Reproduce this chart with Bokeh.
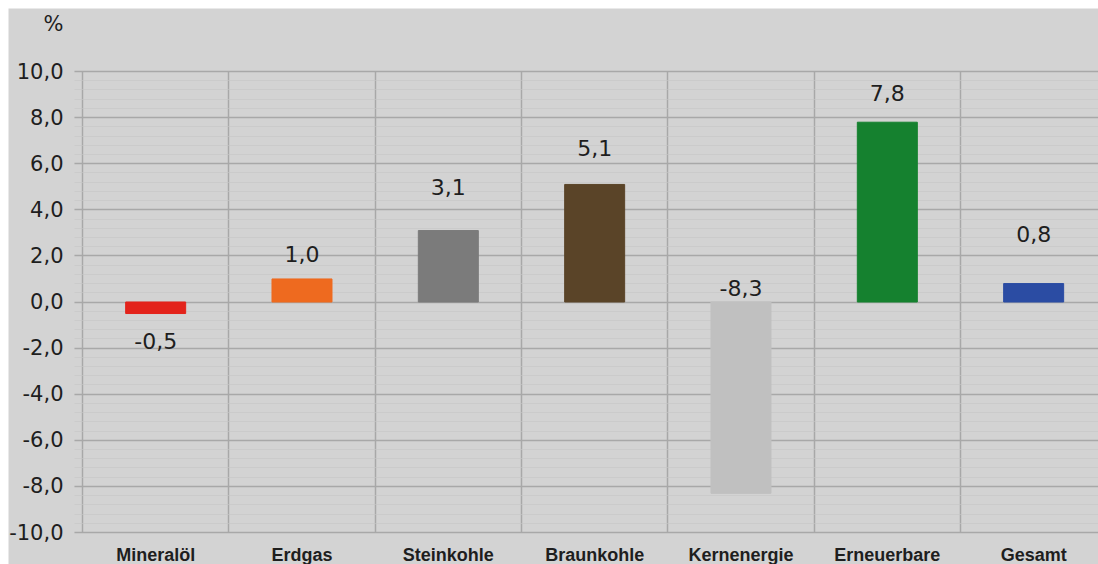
from bokeh.plotting import figure
from bokeh.models import (FixedTicker, CustomJSTickFormatter, Range1d,
                          ColumnDataSource)
from bokeh.core.properties import value
from bokeh.embed import file_html
from bokeh.resources import INLINE

# ---- data ----
categories = ["Mineralöl", "Erdgas", "Steinkohle", "Braunkohle",
              "Kernenergie", "Erneuerbare", "Gesamt"]
changes = [-0.5, 1.0, 3.1, 5.1, -8.3, 7.8, 0.8]
y_ticks = [-10, -8, -6, -4, -2, 0, 2, 4, 6, 8, 10]
unit_label = "%"

# ---- style ----
bar_colors = ["#e3231b", "#ee6a1f", "#7b7b7b", "#5a4428",
              "#c0c0c0", "#15812f", "#2b4ca3"]
# label anchor: "end" = at bar end, "zero" = at zero line; pixel offsets (down +)
label_anchor = ["end", "end", "end", "end", "zero", "end", "end"]
label_offset_px = [27, -25, -44, -36, -14, -29, -50]

BG = "#d3d3d3"
GRID = "#a8a8a8"
TXT = "#1e1e1e"
NUM_FONT = "DejaVu Sans"
CAT_FONT = "Liberation Sans"

n = len(categories)
xs = [i + 0.5 for i in range(n)]

W, H = 1090, 556
# geometry in figure pixels: left divider at 74, value 10 at 63, value -10 at 524
LEFT_PX, TOP_PX, BOT_PX = 74, 63, 524
cat_px = 146.33
px_per_unit = (BOT_PX - TOP_PX) / 20.0
x_start = -LEFT_PX / cat_px
x_end = x_start + W / cat_px
x_stub = -8 / cat_px                          # tick stubs 8 px left of first divider
y_start = -10 - (H - BOT_PX) / px_per_unit
y_end = 10 + TOP_PX / px_per_unit
unit_pos = 10 + 48 / px_per_unit              # '%' 48 px above the 10 line

p = figure(width=W, height=H, output_backend="svg", toolbar_location=None,
           x_range=Range1d(x_start, x_end), y_range=Range1d(y_start, y_end),
           min_border_left=0, min_border_right=0, min_border_top=0,
           min_border_bottom=0)
p.margin = (8, 0, 0, 8)
p.background_fill_color = BG
p.border_fill_color = BG
p.outline_line_color = None

# bars
src = ColumnDataSource(dict(x=xs, top=changes, color=bar_colors))
p.vbar(x="x", top="top", bottom=0, width=0.41, color="color", source=src)

# value labels
lab_y = [v if a == "end" else 0 for v, a in zip(changes, label_anchor)]
lab_txt = [f"{v:.1f}".replace(".", ",") for v in changes]
lsrc = ColumnDataSource(dict(x=xs, y=lab_y, t=lab_txt, off=label_offset_px))
p.text(x="x", y="y", text="t", y_offset="off", source=lsrc,
       text_align="center", text_baseline="middle",
       text_font=value(NUM_FONT), text_font_size="22px", text_color=TXT)

# grids
p.ygrid.ticker = FixedTicker(ticks=y_ticks,
                             minor_ticks=[t / 10 for t in range(-100, 101, 4)])
p.ygrid.grid_line_color = GRID
p.ygrid.grid_line_width = 1.5
p.ygrid.minor_grid_line_color = "#c6c6c6"
p.ygrid.minor_grid_line_alpha = 0.6
p.ygrid.cross_bounds = (x_stub, x_end)
p.xgrid.ticker = FixedTicker(ticks=list(range(n + 1)))
p.xgrid.grid_line_color = GRID
p.xgrid.grid_line_width = 1.5
p.xgrid.cross_bounds = (-10, 10)

# y axis (the '%' unit is the label of an extra tick above the scale)
p.yaxis.fixed_location = x_stub
p.yaxis.ticker = FixedTicker(ticks=y_ticks + [unit_pos])
p.yaxis.formatter = CustomJSTickFormatter(
    args=dict(unit=unit_label),
    code="return tick > 10.5 ? unit : tick.toFixed(1).replace('.', ',');")
p.yaxis.axis_line_color = None
p.yaxis.major_tick_out = 0
p.yaxis.major_tick_in = 0
p.yaxis.major_tick_line_color = None
p.yaxis.minor_tick_line_color = None
p.yaxis.major_label_standoff = 11
p.yaxis.major_label_text_font = NUM_FONT
p.yaxis.major_label_text_font_size = "21px"
p.yaxis.major_label_text_color = TXT

# x axis
p.xaxis.fixed_location = -10
p.xaxis.ticker = FixedTicker(ticks=xs)
p.xaxis.formatter = CustomJSTickFormatter(
    args=dict(names=categories), code="return names[Math.floor(tick)];")
p.xaxis.axis_line_color = None
p.xaxis.major_tick_out = 0
p.xaxis.major_tick_in = 0
p.xaxis.minor_tick_line_color = None
p.xaxis.major_label_standoff = 12
p.xaxis.major_label_text_font = CAT_FONT
p.xaxis.major_label_text_font_size = "18px"
p.xaxis.major_label_text_font_style = "bold"
p.xaxis.major_label_text_color = TXT

open("out.html", "w").write(file_html(p, INLINE))
